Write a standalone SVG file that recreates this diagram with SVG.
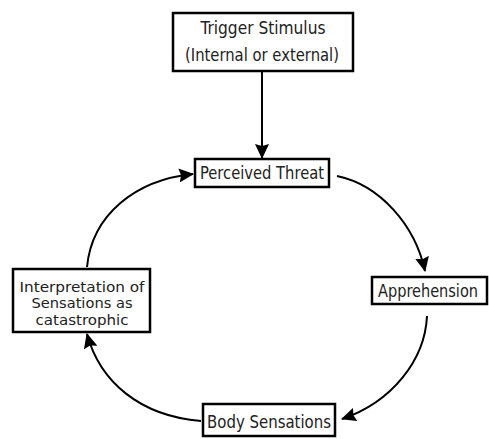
<svg xmlns="http://www.w3.org/2000/svg" width="489" height="439" viewBox="0 0 489 439">
<style>
.box{fill:#fff;stroke:#000;stroke-width:2.5}
.t{font-family:"DejaVu Sans Condensed","DejaVu Sans",sans-serif;font-size:17px;fill:#222;text-anchor:middle}
.s{font-size:14px}
.c{fill:none;stroke:#000;stroke-width:2}
</style>
<defs>
<marker id="ah" markerUnits="userSpaceOnUse" markerWidth="16" markerHeight="14" refX="14" refY="7" orient="auto">
<path d="M0,0 L15,7 L0,14 L2,7 Z" fill="#000"/>
</marker>
</defs>
<rect width="489" height="439" fill="#fff"/>
<g id="connectors">
<path class="c" d="M262,71 L262,158" marker-end="url(#ah)"/>
<path class="c" d="M337,176 C380,185 415,225 425,271" marker-end="url(#ah)"/>
<path class="c" d="M427,316 C425,360 392,402 342,419" marker-end="url(#ah)"/>
<path class="c" d="M201,421 C140,416 100,382 87,334" marker-end="url(#ah)"/>
<path class="c" d="M87,267 C92,215 135,180 193,174" marker-end="url(#ah)"/>
</g>
<g id="trigger">
<rect class="box" x="173" y="13" width="180" height="58"/>
<text class="t" x="263" y="34" textLength="125" lengthAdjust="spacingAndGlyphs">Trigger Stimulus</text>
<text class="t" x="262" y="61" textLength="154" lengthAdjust="spacingAndGlyphs">(Internal or external)</text>
</g>
<g id="perceived">
<rect class="box" x="195" y="159" width="134" height="28"/>
<text class="t" x="262" y="179" textLength="124" lengthAdjust="spacingAndGlyphs">Perceived Threat</text>
</g>
<g id="apprehension">
<rect class="box" x="372" y="277" width="115" height="27"/>
<text class="t" x="428" y="297" textLength="100" lengthAdjust="spacingAndGlyphs">Apprehension</text>
</g>
<g id="body">
<rect class="box" x="203" y="404" width="132" height="32"/>
<text class="t" x="269" y="428" textLength="124" lengthAdjust="spacingAndGlyphs">Body Sensations</text>
</g>
<g id="interpretation">
<rect class="box" x="13" y="269" width="137" height="63"/>
<text class="t s" x="82" y="291.5" textLength="125" lengthAdjust="spacingAndGlyphs">Interpretation of</text>
<text class="t s" x="82" y="308" textLength="101" lengthAdjust="spacingAndGlyphs">Sensations as</text>
<text class="t s" x="82" y="324.5" textLength="93" lengthAdjust="spacingAndGlyphs">catastrophic</text>
</g>
</svg>
